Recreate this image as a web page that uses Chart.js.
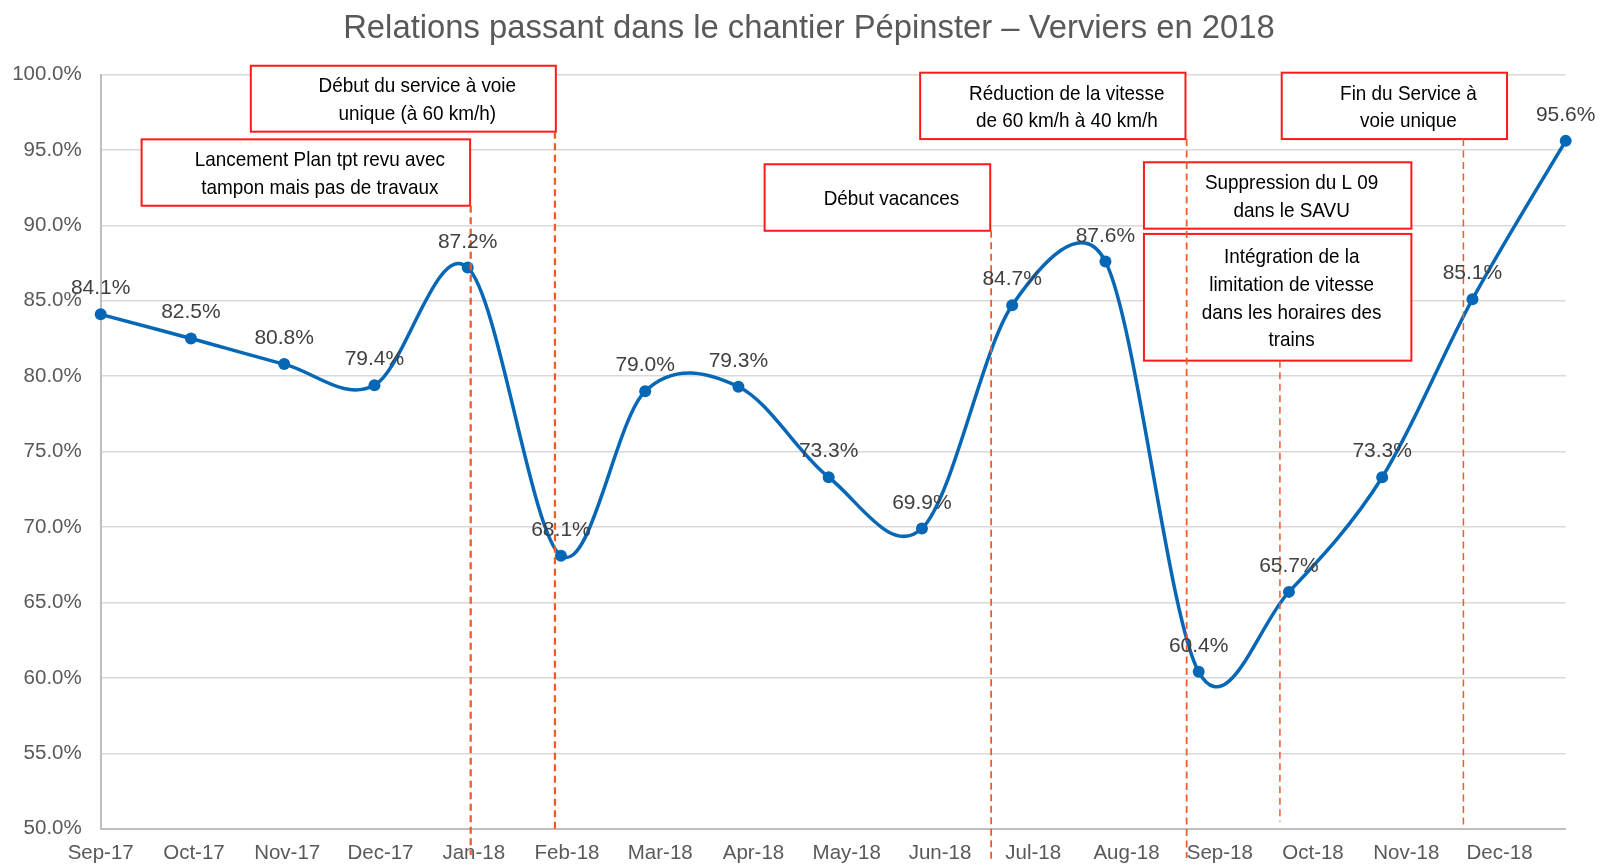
<!DOCTYPE html>
<html>
<head>
<meta charset="utf-8">
<title>Relations passant dans le chantier Pépinster – Verviers en 2018</title>
<script src="https://cdn.jsdelivr.net/npm/chart.js@4/dist/chart.umd.min.js"></script>
<style>
  html, body { margin: 0; padding: 0; background: #fff; }
  canvas { display: block; }
</style>
</head>
<body>
<canvas id="chart" width="1600" height="867"></canvas>
<script>
// one point per month start, 17 months
const pointDates = [
  '2017-09-01', '2017-10-01', '2017-11-01', '2017-12-01', '2018-01-01', '2018-02-01',
  '2018-03-01', '2018-04-01', '2018-05-01', '2018-06-01', '2018-07-01', '2018-08-01',
  '2018-09-01', '2018-10-01', '2018-11-01', '2018-12-01', '2019-01-01'
];
const rates = [84.1, 82.5, 80.8, 79.4, 87.2, 68.1, 79.0, 79.3, 73.3, 69.9, 84.7, 87.6, 60.4, 65.7, 73.3, 85.1, 95.6];

// date axis labels (Excel style, one label every 31 days)
const tickLabels = [
  'Sep-17', 'Oct-17', 'Nov-17', 'Dec-17', 'Jan-18', 'Feb-18', 'Mar-18', 'Apr-18',
  'May-18', 'Jun-18', 'Jul-18', 'Aug-18', 'Sep-18', 'Oct-18', 'Nov-18', 'Dec-18'
];

// events (dashed markers)
const eventDates = ['2018-01-02', '2018-01-30', '2018-06-24', '2018-08-28', '2018-09-28', '2018-11-28'];

const noteTexts = [
  ['Lancement Plan tpt revu avec', 'tampon mais pas de travaux'],
  ['Début du service à voie', 'unique (à 60 km/h)'],
  ['Début vacances'],
  ['Réduction de la vitesse', 'de 60 km/h à 40 km/h'],
  ['Fin du Service à', 'voie unique'],
  ['Suppression du L 09', 'dans le SAVU'],
  ['Intégration de la', 'limitation de vitesse', 'dans les horaires des', 'trains']
];

const titleText = 'Relations passant dans le chantier Pépinster – Verviers en 2018';

const DAY0 = Date.parse(pointDates[0]);
const toDay = (d) => (Date.parse(d) - DAY0) / 864e5;

// box placement in axis units (days, %)
const noteBoxes = [
  { x0: 13.6, x1: 122.8, y0: 95.7, y1: 91.3 },
  { x0: 49.9, x1: 151.3, y0: 100.58, y1: 96.21 },
  { x0: 220.7, x1: 295.7, y0: 94.05, y1: 89.64 },
  { x0: 272.4, x1: 360.6, y0: 100.12, y1: 95.72 },
  { x0: 392.6, x1: 467.5, y0: 100.12, y1: 95.72 },
  { x0: 346.8, x1: 435.7, y0: 94.18, y1: 89.78 },
  { x0: 346.8, x1: 435.7, y0: 89.43, y1: 81.03 }
];
// dashed marker extents (%), and width
const markerStyle = [
  { from: 91.3, to: 48.26, w: 2.25 },
  { from: 96.21, to: 50, w: 2.25 },
  { from: 89.64, to: 47.8, w: 1.75 },
  { from: 95.72, to: 48.06, w: 1.75 },
  { from: 81.03, to: 50.46, w: 1.5 },
  { from: 95.72, to: 50.05, w: 1.5 }
];

const FONT = "'Liberation Sans', Arial, sans-serif";
const LINE_BLUE = '#0567B5';
const MARK_ORANGE = '#EF5B25';

Chart.defaults.font.family = FONT;

// Excel "smoothed line": bezier handles at 1/6 of neighbour vector,
// kept shorter than half the segment they point along
const excelSmooth = {
  id: 'excelSmooth',
  beforeDatasetDraw(chart, args) {
    const meta = args.meta;
    const line = meta.dataset;
    if (!line) return;
    if (typeof line.updateControlPoints === 'function') {
      line.updateControlPoints(chart.chartArea, 'x');
    }
    const pts = meta.data;
    const n = pts.length;
    const clip = (vx, vy, a, b) => {
      const seg = Math.hypot(b.x - a.x, b.y - a.y) / 2;
      const len = Math.hypot(vx, vy);
      const k = len > seg && len > 0 ? seg / len : 1;
      return [vx * k, vy * k];
    };
    for (let i = 0; i < n; i++) {
      const p = pts[i];
      const prev = pts[Math.max(i - 1, 0)];
      const next = pts[Math.min(i + 1, n - 1)];
      const dx = (next.x - prev.x) / 6;
      const dy = (next.y - prev.y) / 6;
      const [bx, by] = clip(dx, dy, prev, p);
      const [fx, fy] = clip(dx, dy, p, next);
      p.cp1x = p.x - bx;
      p.cp1y = p.y - by;
      p.cp2x = p.x + fx;
      p.cp2y = p.y + fy;
    }
    line._path = undefined;
  }
};

const notesPlugin = {
  id: 'notes',
  beforeDatasetsDraw(chart) {
    const { ctx, scales: { x, y } } = chart;
    ctx.save();
    noteBoxes.forEach((b, k) => {
      const left = x.getPixelForValue(b.x0);
      const right = x.getPixelForValue(b.x1);
      const top = y.getPixelForValue(b.y0);
      const bottom = y.getPixelForValue(b.y1);
      ctx.fillStyle = '#ffffff';
      ctx.fillRect(left, top, right - left, bottom - top);
      ctx.strokeStyle = '#FF1A1A';
      ctx.lineWidth = 2;
      ctx.strokeRect(left, top, right - left, bottom - top);

      const lines = noteTexts[k];
      const cx = (left + right) / 2 + 14;
      const cy = (top + bottom) / 2;
      ctx.fillStyle = '#000000';
      ctx.font = '21px ' + FONT;
      ctx.textAlign = 'center';
      ctx.textBaseline = 'alphabetic';
      lines.forEach((t, j) => {
        const by = cy + (j - (lines.length - 1) / 2) * 27.6 + 7.5;
        ctx.save();
        ctx.translate(cx, by);
        ctx.scale(0.9, 1);
        ctx.fillText(t, 0, 0);
        ctx.restore();
      });
    });
    ctx.restore();
  },
  afterDatasetsDraw(chart) {
    const { ctx, scales: { x, y } } = chart;
    ctx.save();
    ctx.strokeStyle = MARK_ORANGE;
    ctx.setLineDash([7, 4.5]);
    eventDates.forEach((d, k) => {
      const px = x.getPixelForValue(toDay(d));
      const m = markerStyle[k];
      ctx.lineWidth = m.w;
      ctx.beginPath();
      ctx.moveTo(px, y.getPixelForValue(m.from));
      ctx.lineTo(px, y.getPixelForValue(m.to));
      ctx.stroke();
    });
    ctx.restore();

    // value labels above points
    const meta = chart.getDatasetMeta(0);
    ctx.save();
    ctx.font = '21px ' + FONT;
    ctx.fillStyle = '#404040';
    ctx.textAlign = 'center';
    ctx.textBaseline = 'alphabetic';
    meta.data.forEach((pt, i) => {
      ctx.fillText(rates[i].toFixed(1) + '%', pt.x, pt.y - 20);
    });
    ctx.restore();
  }
};

const titlePlugin = {
  id: 'bigTitle',
  afterDraw(chart) {
    const ctx = chart.ctx;
    ctx.save();
    ctx.font = '32.8px ' + FONT;
    ctx.fillStyle = '#595959';
    ctx.textAlign = 'center';
    ctx.textBaseline = 'alphabetic';
    ctx.fillText(titleText, 809, 38);
    ctx.restore();
  }
};

const ctx = document.getElementById('chart');
new Chart(ctx, {
  type: 'line',
  data: {
    datasets: [{
      data: pointDates.map((d, i) => ({ x: toDay(d), y: rates[i] })),
      borderColor: LINE_BLUE,
      backgroundColor: LINE_BLUE,
      borderWidth: 3.5,
      pointRadius: 6,
      pointHoverRadius: 6,
      pointBackgroundColor: LINE_BLUE,
      pointBorderWidth: 0,
      tension: 0.4,
      fill: false,
      clip: false
    }]
  },
  options: {
    responsive: false,
    animation: false,
    events: [],
    layout: { padding: { top: 74.5, right: 34.3, left: 0, bottom: 0 } },
    plugins: {
      legend: { display: false },
      tooltip: { enabled: false }
    },
    scales: {
      x: {
        type: 'linear',
        min: 0,
        max: toDay(pointDates[pointDates.length - 1]),
        afterBuildTicks: (s) => {
          s.ticks = tickLabels.map((_, i) => ({ value: i * 31 }));
        },
        afterFit: (s) => { s.height = 38.3; },
        ticks: {
          autoSkip: false,
          maxRotation: 0,
          minRotation: 0,
          color: '#595959',
          font: { size: 20.5 },
          padding: 12,
          callback: (v, i) => tickLabels[i]
        },
        grid: { color: 'rgba(0,0,0,0)', drawTicks: false },
        border: { color: '#bfbfbf', width: 2 }
      },
      y: {
        min: 50,
        max: 100,
        afterFit: (s) => { s.width = 100.7; },
        ticks: {
          stepSize: 5,
          color: '#595959',
          font: { size: 20.5 },
          padding: 19,
          callback: (v) => v.toFixed(1) + '%'
        },
        grid: { color: '#d9d9d9', lineWidth: 1.5, drawTicks: false },
        border: { color: '#bfbfbf', width: 2 }
      }
    }
  },
  plugins: [excelSmooth, notesPlugin, titlePlugin]
});
</script>
</body>
</html>
